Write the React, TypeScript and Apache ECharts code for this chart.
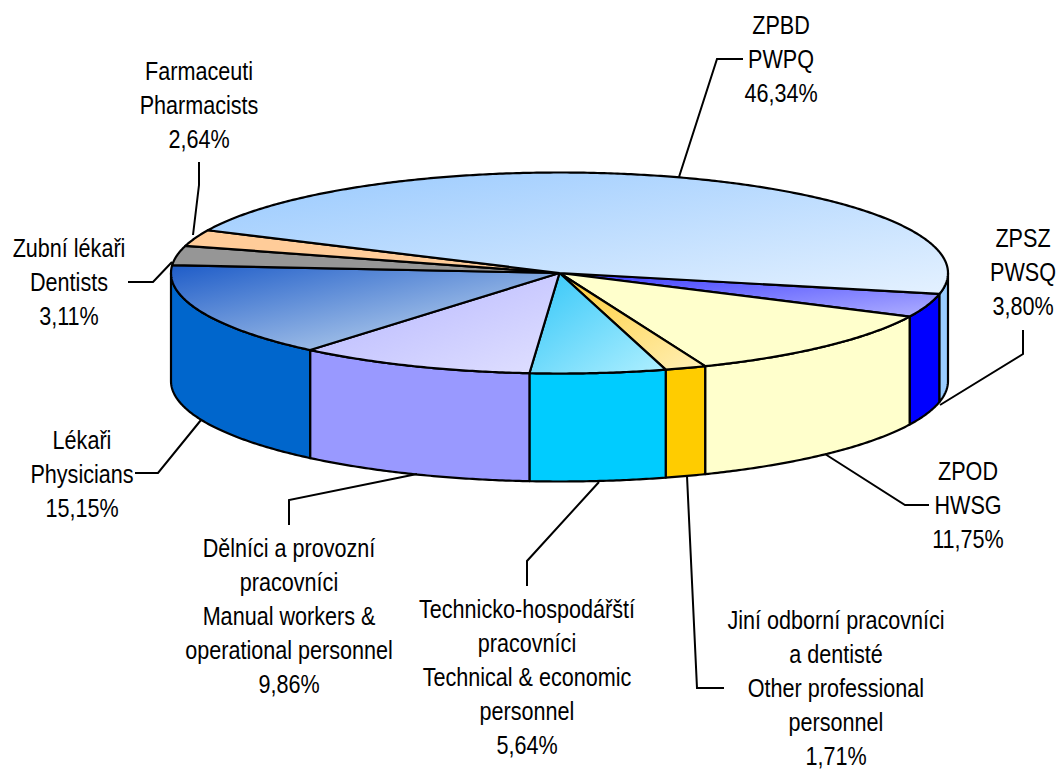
import React, { useEffect, useRef } from "react";
import * as echarts from "echarts";

// Data (clockwise from the start of the ZPSZ slice)
const names = ["ZPSZ", "ZPOD", "Jiní", "Technicko", "Dělníci", "Lékaři", "Zubní", "Farmaceuti", "ZPBD"];
const shares = [3.8, 11.75, 1.71, 5.64, 9.86, 15.15, 3.11, 2.64, 46.34];
const labelTexts = [
  "ZPSZ\nPWSQ\n3,80%",
  "ZPOD\nHWSG\n11,75%",
  "Jiní odborní pracovníci\na dentisté\nOther professional\npersonnel\n1,71%",
  "Technicko-hospodářští\npracovníci\nTechnical & economic\npersonnel\n5,64%",
  "Dělníci a provozní\npracovníci\nManual workers &\noperational personnel\n9,86%",
  "Lékaři\nPhysicians\n15,15%",
  "Zubní lékaři\nDentists\n3,11%",
  "Farmaceuti\nPharmacists\n2,64%",
  "ZPBD\nPWPQ\n46,34%",
];

// Styles
const sideColors = ["#0000FF", "#FFFFCC", "#FFCC00", "#00CCFF", "#9999FF", "#0066CC", "#969696", "#FFCC99", "#99CCFF"];
const topColors: [string, string][] = [
  ["#3A3AFF", "#B0B0FF"],
  ["#FFFFCC", "#FFFFCC"],
  ["#FFCC33", "#FFF0B8"],
  ["#33C6F8", "#B0F0FF"],
  ["#B4B4FF", "#E0E0FF"],
  ["#1E5CC8", "#D4E6F4"],
  ["#969696", "#969696"],
  ["#FFCC99", "#FFCC99"],
  ["#98C9FE", "#E4F1FF"],
];

// Layout
const CX = 559.5;
const CY = 273;
const RX = 388.5;
const RY = 100.5;
const DEPTH = 108;
const START_DEG = 12;
const labelCenters: [number, number][] = [
  [1023, 272], [968, 505], [836, 688], [527, 677], [289, 616], [82, 474], [69, 282], [199, 105], [781, 59],
];
const leaders: [number, number][][] = [
  [[1023, 330], [1023, 354], [940, 405]],
  [[929, 505], [905, 505], [825, 454]],
  [[724, 688], [697, 688], [687, 476]],
  [[527, 586], [527, 561], [599, 482]],
  [[289, 525], [289, 500], [417, 474]],
  [[135, 473], [158, 473], [201, 420]],
  [[128, 282], [153, 282], [172, 262]],
  [[199, 162], [199, 185], [193, 235]],
  [[743, 59], [717, 59], [679, 177]],
];

const rad = (d: number) => (d * Math.PI) / 180;
const rim = (deg: number, drop = 0): [number, number] => [
  CX + RX * Math.cos(rad(deg)),
  CY + RY * Math.sin(rad(deg)) + drop,
];
const arcPoints = (a: number, b: number, drop = 0) => {
  const n = Math.max(2, Math.ceil(Math.abs(b - a) * 2));
  const pts: [number, number][] = [];
  for (let i = 0; i <= n; i++) pts.push(rim(a + ((b - a) * i) / n, drop));
  return pts;
};

const renderItem = (params: any, api: any) => {
  const i = params.dataIndex;
  const value = api.value(0);
  const before = shares.slice(0, i).reduce((s, v) => s + v, 0);
  const a = START_DEG + before * 3.6;
  const b = a + value * 3.6;
  const children: any[] = [];
  const base = { stroke: "#000", lineWidth: 2.2, lineJoin: "round" };
  for (const [lo, hi] of [[0, 180], [360, 540]]) {
    const s = Math.max(a, lo);
    const e = Math.min(b, hi);
    if (e > s) {
      children.push({
        type: "polygon",
        z2: 1,
        shape: { points: [...arcPoints(s, e), ...arcPoints(e, s, DEPTH)] },
        style: { ...base, fill: sideColors[i] },
      });
    }
  }
  children.push({
    type: "polygon",
    z2: 10,
    shape: { points: [[CX, CY], ...arcPoints(a, b)] },
    style: {
      ...base,
      fill: new echarts.graphic.LinearGradient(0, 0, 1, 1, [
        { offset: 0, color: topColors[i][0] },
        { offset: 1, color: topColors[i][1] },
      ]),
    },
  });
  return { type: "group", children };
};

export default function App() {
  const ref = useRef<HTMLDivElement>(null);
  useEffect(() => {
    document.body.style.margin = "0";
    const chart = echarts.init(ref.current!, null, { renderer: "svg" });
    chart.setOption({
      animation: false,
      backgroundColor: "#fff",
      series: [
        {
          type: "custom",
          coordinateSystem: "none",
          silent: true,
          renderItem,
          data: shares.map((v, i) => ({ name: names[i], value: v })),
        },
      ],
      graphic: [
        ...leaders.map((points) => ({
          type: "polyline",
          z: 20,
          silent: true,
          shape: { points },
          style: { stroke: "#000", lineWidth: 2, fill: "none" },
        })),
        ...labelTexts.map((text, i) => ({
          type: "text",
          z: 30,
          silent: true,
          x: labelCenters[i][0],
          y: labelCenters[i][1],
          scaleX: 0.85,
          style: {
            text,
            fill: "#000",
            font: '25.4px "Liberation Sans", Arial, sans-serif',
            lineHeight: 34,
            align: "center",
            verticalAlign: "middle",
          },
        })),
      ],
    });
    return () => chart.dispose();
  }, []);
  return <div ref={ref} style={{ width: 1058, height: 769 }} />;
}
